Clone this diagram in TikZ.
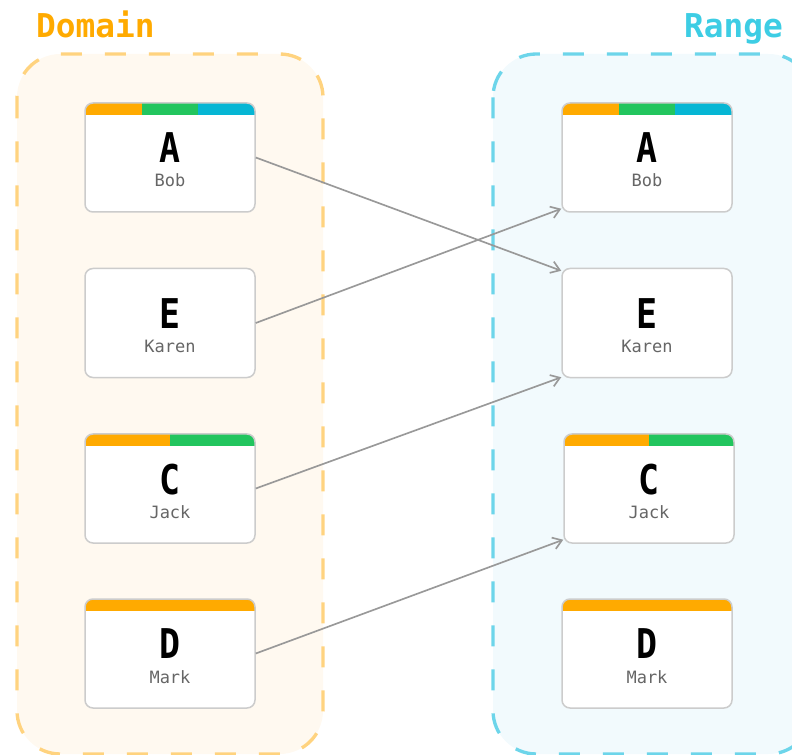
\documentclass[tikz,border=0pt]{standalone}
\usepackage{fontspec}
\setmonofont{DejaVu Sans Mono}
\newfontfamily\letterfam{DejaVu Sans Mono}[FakeStretch=0.85]
\usepackage{tikz}
\usetikzlibrary{arrows.meta, positioning, calc}
\usepackage{xcolor}

\definecolor{barOrange}{HTML}{FFAA00}
\definecolor{barGreen}{HTML}{22C55E}
\definecolor{barCyan}{HTML}{06B6D4}
\definecolor{domFill}{HTML}{FFF9F0}
\definecolor{domLine}{HTML}{FFD37F}
\definecolor{domText}{HTML}{FFAA00}
\definecolor{rngFill}{HTML}{F2FAFD}
\definecolor{rngLine}{HTML}{6DD5EA}
\definecolor{rngText}{HTML}{3DCDE4}
\definecolor{cardLine}{HTML}{CCCCCC}
\definecolor{nameGray}{HTML}{666666}
\definecolor{mapGray}{HTML}{999999}

\newcommand{\titlefont}{\ttfamily\bfseries\fontsize{28}{32}\selectfont}
\newcommand{\letterfont}{\letterfam\bfseries\fontsize{35}{38}\selectfont}
\newcommand{\namefont}{\ttfamily\fontsize{14.5}{20.5}\selectfont}

\tikzset{
    setbox/.style={rounded corners=13mm, dash pattern=on 6.3mm off 6.9mm, line width=1mm},
    card/.style={draw=cardLine, line width=0.45mm, fill=white, rounded corners=2.4mm,
        minimum width=51mm, minimum height=32.7mm},
    bars/.style={path picture={
        \foreach \c/\a/\b in {#1}
            \fill[\c, sharp corners]
                ($(path picture bounding box.north west)!\a!(path picture bounding box.north east)$) rectangle
                ($(path picture bounding box.north west)!\b!(path picture bounding box.north east)+(0,-3.6mm)$);
    }},
    cardtext/.style={align=center, font=\namefont, text=nameGray, inner sep=0pt},
    map/.style={draw=mapGray, line width=0.5mm, -{Straight Barb[length=2.6mm, width=3.6mm]}},
}

\begin{document}
\begin{tikzpicture}[x=0.3mm, y=-0.3mm]
    \useasboundingbox (0,0) rectangle (792,755);
    \clip (0,0) rectangle (792,755);

    % the two sets
    \draw[setbox, draw=domLine, fill=domFill] (17,54) rectangle (323,754);
    \draw[setbox, draw=rngLine, fill=rngFill] (493,54) rectangle (812,754);
    \node[font=\titlefont, text=domText, anchor=base west, inner sep=0pt] (domTitle) at (36,38) {Domain};
    \node[font=\titlefont, text=rngText, anchor=base east, inner sep=0pt] (rngTitle) at (783,38) {Range};

    % domain cards
    \node[card, bars={barOrange/0/.334, barGreen/.333/.667, barCyan/.666/1}] (dA) at (170,157.5) {};
    \node[card] (dE) at (170,323) {};
    \node[card, bars={barOrange/0/.501, barGreen/.5/1}] (dC) at (170,488.5) {};
    \node[card, bars={barOrange/0/1}] (dD) at (170,653.5) {};

    \node[cardtext] (dAtxt) at ([yshift=-0.8mm]dA.center) {{\letterfont\color{black}A}\\Bob};
    \node[cardtext] (dEtxt) at ([yshift=-0.8mm]dE.center) {{\letterfont\color{black}E}\\Karen};
    \node[cardtext] (dCtxt) at ([yshift=-0.8mm]dC.center) {{\letterfont\color{black}C}\\Jack};
    \node[cardtext] (dDtxt) at ([yshift=-0.8mm]dD.center) {{\letterfont\color{black}D}\\Mark};

    % range cards
    \node[card, bars={barOrange/0/.334, barGreen/.333/.667, barCyan/.666/1}] (rA) at (647,157.5) {};
    \node[card] (rE) at (647,323) {};
    \node[card, bars={barOrange/0/.501, barGreen/.5/1}] (rC) at (649,488.5) {};
    \node[card, bars={barOrange/0/1}] (rD) at (647,653.5) {};

    \node[cardtext] (rAtxt) at ([yshift=-0.8mm]rA.center) {{\letterfont\color{black}A}\\Bob};
    \node[cardtext] (rEtxt) at ([yshift=-0.8mm]rE.center) {{\letterfont\color{black}E}\\Karen};
    \node[cardtext] (rCtxt) at ([yshift=-0.8mm]rC.center) {{\letterfont\color{black}C}\\Jack};
    \node[cardtext] (rDtxt) at ([yshift=-0.8mm]rD.center) {{\letterfont\color{black}D}\\Mark};

    % the mapping
    \draw[map] (dA.east) -- ([yshift=-0.9mm]rE.north west);
    \draw[map] (dE.east) -- ([yshift=1.2mm]rA.south west);
    \draw[map] (dC.east) -- ([yshift=0.3mm]rE.south west);
    \draw[map] (dD.east) -- ([yshift=1.2mm]rC.south west);
\end{tikzpicture}
\end{document}
